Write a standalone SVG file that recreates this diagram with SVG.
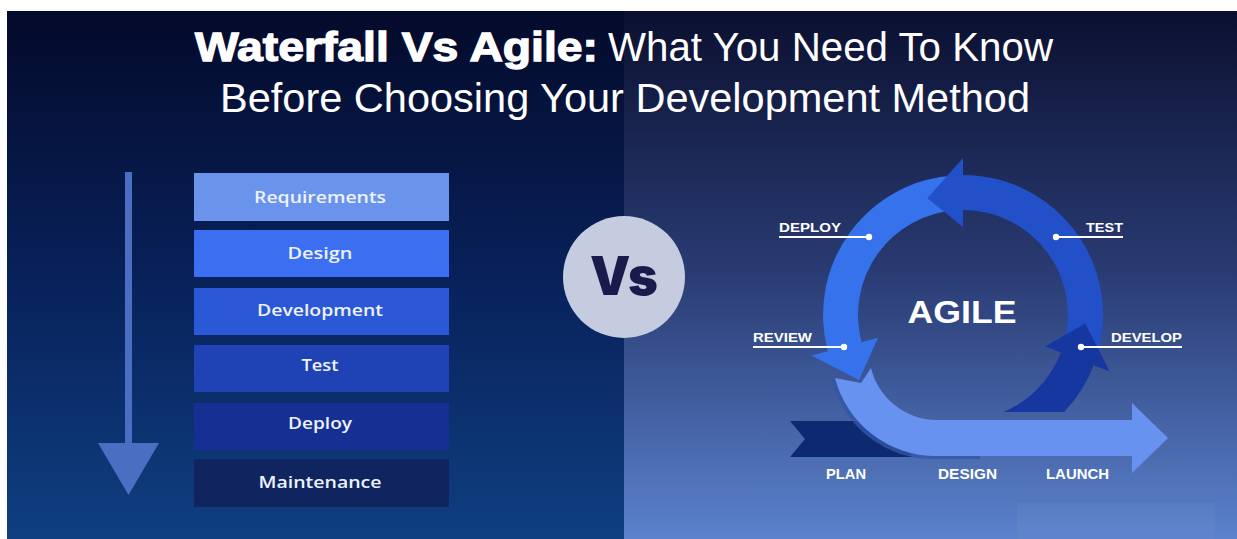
<svg xmlns="http://www.w3.org/2000/svg" width="1237" height="539" viewBox="0 0 1237 539">
<defs>
<linearGradient id="gl" x1="0" y1="0" x2="0" y2="1">
<stop offset="0" stop-color="#040a2a"/>
<stop offset="0.5" stop-color="#08215a"/>
<stop offset="1" stop-color="#0f3f80"/>
</linearGradient>
<linearGradient id="gr" x1="0" y1="0" x2="0" y2="1">
<stop offset="0" stop-color="#0b1030"/>
<stop offset="0.5" stop-color="#2a3c74"/>
<stop offset="1" stop-color="#5b82cc"/>
</linearGradient>
<clipPath id="shclip"><rect x="780" y="360" width="200" height="110"/></clipPath>
<style>
.tb{font-family:"Liberation Sans Narrow","Liberation Sans",sans-serif;font-weight:700;font-size:41px;fill:#fff;stroke:#fff;stroke-width:1.3px}
.tl{font-family:"Liberation Sans Narrow","Liberation Sans",sans-serif;font-weight:400;font-size:41px;fill:#fff}
.box text{font-family:"Open Sans","Liberation Sans",sans-serif;font-weight:600;font-size:17px;fill:#eef2ff;text-anchor:middle}
.lbl{font-family:"Liberation Sans",Arial,sans-serif;font-weight:700;font-size:13px;fill:#fff}
.bl{font-family:"Liberation Sans",Arial,sans-serif;font-weight:700;font-size:15px;fill:#fff}
.ul{stroke:#fff;stroke-width:2}
</style>
</defs>
<rect width="1237" height="539" fill="#fff"/>
<rect x="7" y="11" width="617" height="528" fill="url(#gl)"/>
<rect x="624" y="11" width="613" height="528" fill="url(#gr)"/>
<rect x="1017" y="503" width="198" height="36" fill="#fff" opacity="0.03"/>

<g id="title">
<text class="tb" x="195" y="61" textLength="403" lengthAdjust="spacingAndGlyphs">Waterfall Vs Agile:</text>
<text class="tl" x="608" y="61" textLength="445" lengthAdjust="spacingAndGlyphs">What You Need To Know</text>
<text class="tl" x="220" y="112" textLength="810" lengthAdjust="spacingAndGlyphs">Before Choosing Your Development Method</text>
</g>

<g id="connectors">
<rect x="125" y="172" width="7" height="273" fill="#4a6fc2"/>
<polygon points="98,443 159,443 128.5,495" fill="#4a6fc2"/>
</g>

<g id="requirements" class="box"><rect x="194" y="173" width="255" height="48" fill="#6a93ec"/><text x="320" y="203" textLength="132" lengthAdjust="spacingAndGlyphs">Requirements</text></g>
<g id="design" class="box"><rect x="194" y="230" width="255" height="47" fill="#3b6ef0"/><text x="320" y="259" textLength="65" lengthAdjust="spacingAndGlyphs">Design</text></g>
<g id="development" class="box"><rect x="194" y="288" width="255" height="47" fill="#2b58d6"/><text x="320" y="316" textLength="126" lengthAdjust="spacingAndGlyphs">Development</text></g>
<g id="test" class="box"><rect x="194" y="345" width="255" height="47" fill="#1f43b4"/><text x="320" y="371" textLength="37" lengthAdjust="spacingAndGlyphs">Test</text></g>
<g id="deploy" class="box"><rect x="194" y="403" width="255" height="47" fill="#152f92"/><text x="320" y="429" textLength="64" lengthAdjust="spacingAndGlyphs">Deploy</text></g>
<g id="maintenance" class="box"><rect x="194" y="459" width="255" height="48" fill="#10245f"/><text x="320" y="488" textLength="123" lengthAdjust="spacingAndGlyphs">Maintenance</text></g>

<g id="vs">
<circle cx="624" cy="277" r="61" fill="#c6cce0"/>
<text x="624" y="295" text-anchor="middle" font-family="Inter,'Liberation Sans',sans-serif" font-weight="900" font-size="53" fill="#1b1a4c" textLength="68" lengthAdjust="spacingAndGlyphs">Vs</text>
</g>

<g id="agile-cycle">
<path id="plan-arrow" d="M790 421 L880 421 L913 457 L790 457 L805 439 Z" fill="#0d2a70"/>
<path clip-path="url(#shclip)" d="M832 381 A104 104 0 0 0 933 459 L1129 459 L1129 476 L1165 441 L1129 406 L1129 423 L933 423 A68 68 0 0 1 868 371 L858 386 Z" fill="#3556a6" opacity="0.8"/>
<path id="design-arrow" d="M835 378 A104 104 0 0 0 936 456 L1132 456 L1132 473 L1168 438 L1132 403 L1132 420 L936 420 A68 68 0 0 1 871 368 L861 383 Z" fill="#6792f0"/>
<path id="deploy-review-arrow" d="M955.7 175.2 A140 140 0 0 0 827.8 351.2 L811.3 355.6 L859.1 379.9 L878 337.8 L861.6 342.2 A105 105 0 0 1 957.5 210.1 L933.4 196.1 Z" fill="#3672ec"/>
<path id="test-arrow" d="M1096.9 355.9 A140 140 0 0 0 963 175 L963 158 L927.3 198.3 L963 227 L963 210 A105 105 0 0 1 1063.4 345.7 L1084.8 327.8 Z" fill="#2250c8"/>
<path id="develop-arrow" d="M1003.2 412 L1064 412 A140 140 0 0 0 1093.7 365.2 L1109.6 371.3 L1085.2 323.5 L1045.2 346.5 L1061 352.6 A105 105 0 0 1 1003.2 412 Z" fill="#1636a0"/>
<text x="962" y="323" text-anchor="middle" font-family="'Liberation Sans',Arial,sans-serif" font-weight="700" font-size="32" fill="#fff" textLength="109" lengthAdjust="spacingAndGlyphs">AGILE</text>
</g>

<g id="label-deploy"><text class="lbl" x="779" y="232" textLength="62" lengthAdjust="spacingAndGlyphs">DEPLOY</text><line class="ul" x1="779" y1="237" x2="869" y2="237"/><circle cx="869" cy="237" r="3.2" fill="#fff"/></g>
<g id="label-test"><text class="lbl" x="1086" y="232" textLength="37" lengthAdjust="spacingAndGlyphs">TEST</text><line class="ul" x1="1056" y1="237" x2="1123" y2="237"/><circle cx="1056" cy="237" r="3.2" fill="#fff"/></g>
<g id="label-review"><text class="lbl" x="753" y="342" textLength="59" lengthAdjust="spacingAndGlyphs">REVIEW</text><line class="ul" x1="753" y1="347" x2="844" y2="347"/><circle cx="844" cy="347" r="3.2" fill="#fff"/></g>
<g id="label-develop"><text class="lbl" x="1111" y="342" textLength="71" lengthAdjust="spacingAndGlyphs">DEVELOP</text><line class="ul" x1="1081" y1="347" x2="1182" y2="347"/><circle cx="1081" cy="347" r="3.2" fill="#fff"/></g>
<g id="label-plan"><text class="bl" x="826" y="479" textLength="40" lengthAdjust="spacingAndGlyphs">PLAN</text></g>
<g id="label-design"><text class="bl" x="938" y="479" textLength="59" lengthAdjust="spacingAndGlyphs">DESIGN</text></g>
<g id="label-launch"><text class="bl" x="1046" y="479" textLength="63" lengthAdjust="spacingAndGlyphs">LAUNCH</text></g>
</svg>
